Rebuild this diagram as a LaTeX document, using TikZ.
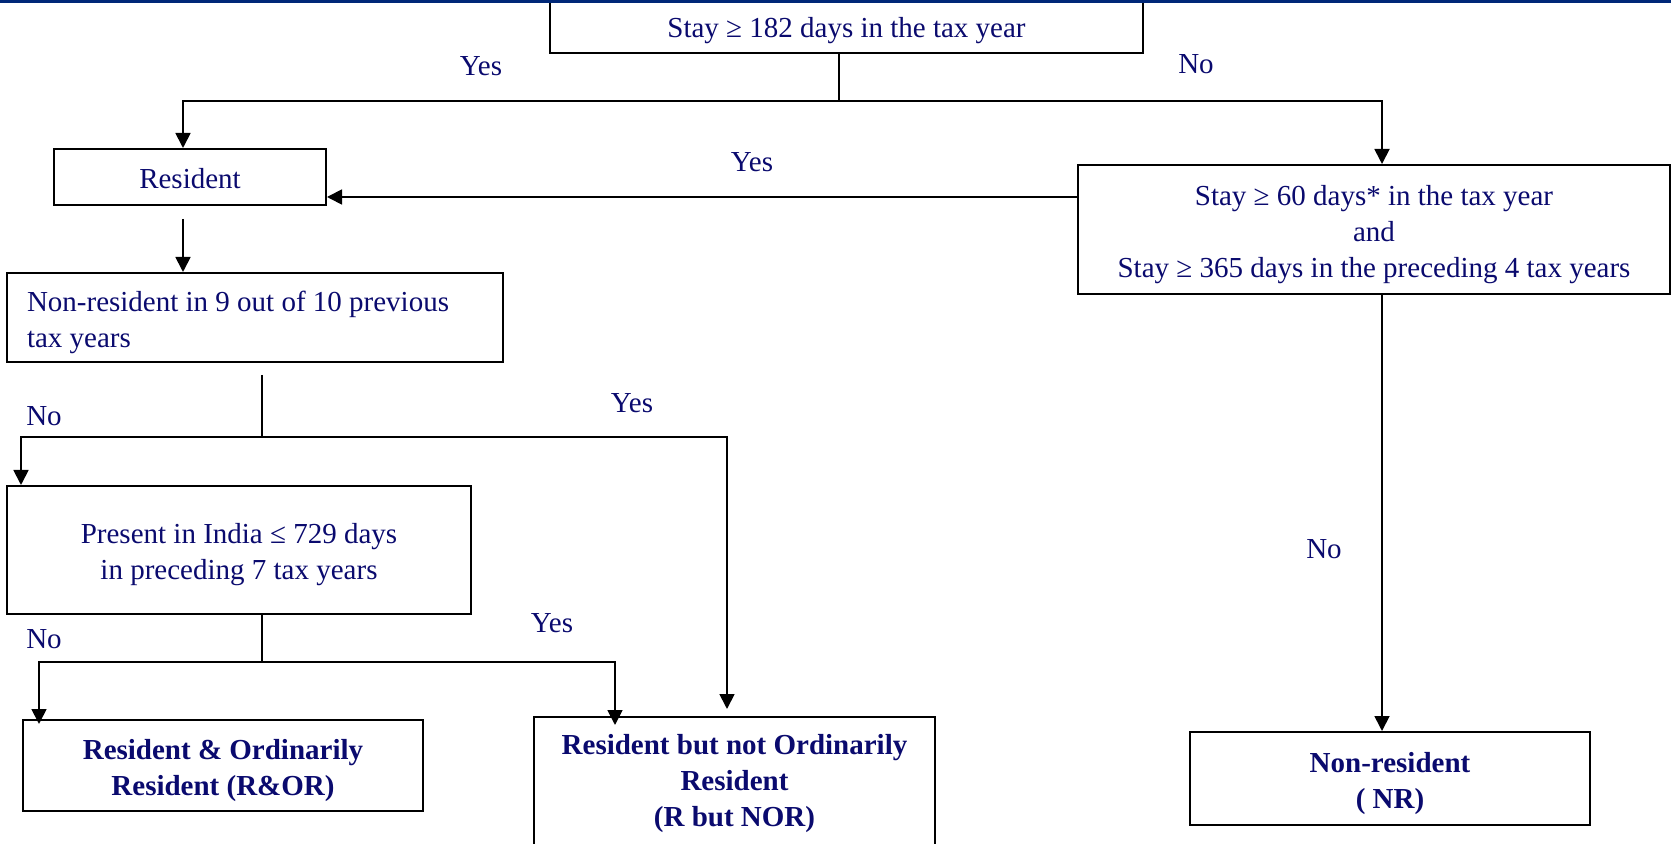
\documentclass[tikz,border=0pt]{standalone}
\usepackage{fontspec}
\setmainfont{Liberation Serif}
\usepackage{xcolor}
\usetikzlibrary{arrows.meta}
\definecolor{navytext}{RGB}{10,10,110}
\definecolor{navyband}{RGB}{0,40,120}
\newcommand{\boxpad}[1][15pt]{\rule{0pt}{#1}}

\begin{document}
\begin{tikzpicture}[x=0.5pt,y=-0.5pt,
  every node/.style={font=\fontsize{14.5}{18}\selectfont, text=navytext},
  test/.style={draw=black, line width=1pt, rectangle, inner sep=0pt, align=center},
  outcome/.style={test, font=\fontsize{14.5}{18}\selectfont\bfseries},
  flow/.style={line width=0.9pt, -{Triangle[length=7.5pt,width=7.5pt]}},
  stub/.style={line width=0.8pt},
  ans/.style={inner sep=0pt}]
  \useasboundingbox (0,0) rectangle (1671,844);

  % tests
  \node[test, minimum width=296.5pt, minimum height=27.5pt] (stay182) at (846.5,25.5) {\boxpad Stay ≥ 182 days in the tax year};
  \node[test, minimum width=136pt, minimum height=28pt] (res) at (190,177) {\boxpad[12pt]Resident};
  \node[test, minimum width=296pt, minimum height=64.5pt] (stay60) at (1374,229.5)
    {\boxpad Stay ≥ 60 days* in the tax year\\ and\\ Stay ≥ 365 days in the preceding 4 tax years};
  \node[test, align=flush left, text width=228pt, inner xsep=10pt, minimum height=44.5pt] (nr9) at (255,317.5)
    {\boxpad Non-resident in 9 out of 10 previous\\ tax years};
  \node[test, minimum width=232pt, minimum height=64pt] (pres) at (239,550)
    {\boxpad Present in India ≤ 729 days\\ in preceding 7 tax years};

  % outcomes
  \node[outcome, minimum width=200pt, minimum height=45.5pt] (ror) at (223,765.5)
    {\boxpad Resident \& Ordinarily\\ Resident (R\&OR)};
  \node[outcome, minimum width=200.5pt, anchor=north, inner ysep=8.75pt, text depth=75pt] (rnor) at (734.5,716)
    {Resident but not Ordinarily\\ Resident\\ (R but NOR)};
  \node[outcome, minimum width=200pt, minimum height=46.5pt] (nres) at (1390,778.5)
    {\boxpad Non-resident\\ ( NR)};

  % branch points
  \coordinate (split1) at (839,101);
  \coordinate (toRes) at (183,101);
  \coordinate (toNo) at (1382,101);
  \coordinate (split2) at (262,437);
  \coordinate (toPres) at (21,437);
  \coordinate (toRnor) at (727,437);
  \coordinate (split3) at (262,662);
  \coordinate (toRor) at (39,662);
  \coordinate (toRnorB) at (615,662);

  % connectors
  \draw[stub] (stay182.south -| split1) -- (split1);
  \draw[flow] (split1) -- (toRes) -- (toRes |- res.north);
  \draw[flow] (split1) -- (toNo) -- (toNo |- stay60.north);
  \draw[flow] ([yshift=-10pt]res.east -| stay60.west) -- ([yshift=-10pt]res.east);
  \draw[flow] ([yshift=-6.5pt]res.south -| toRes) -- (toRes |- nr9.north);
  \draw[stub] ([yshift=-6pt]nr9.south -| split2) -- (split2);
  \draw[flow] (split2) -- (toPres) -- (toPres |- pres.north);
  \draw[flow] (split2) -- (toRnor) -- ([yshift=3.5pt]toRnor |- rnor.north);
  \draw[stub] (pres.south -| split3) -- (split3);
  \draw[flow] (split3) -- (toRor) -- ([yshift=-2.5pt]toRor |- ror.north);
  \draw[flow] (split3) -- (toRnorB) -- ([yshift=-4.5pt]toRnorB |- rnor.north);
  \draw[flow] (toNo |- stay60.south) -- (toNo |- nres.north);

  % answers
  \node[ans] (yes1) at (481,66) {Yes};
  \node[ans] (no1) at (1196,64) {No};
  \node[ans] (yes2) at (752,162) {Yes};
  \node[ans] (no2) at (44,416) {No};
  \node[ans] (yes3) at (632,403) {Yes};
  \node[ans] (no3) at (44,639) {No};
  \node[ans] (yes4) at (552,623) {Yes};
  \node[ans] (no4) at (1324,549) {No};

  \fill[navyband] (0,0) rectangle (1671,3.5);
\end{tikzpicture}
\end{document}
